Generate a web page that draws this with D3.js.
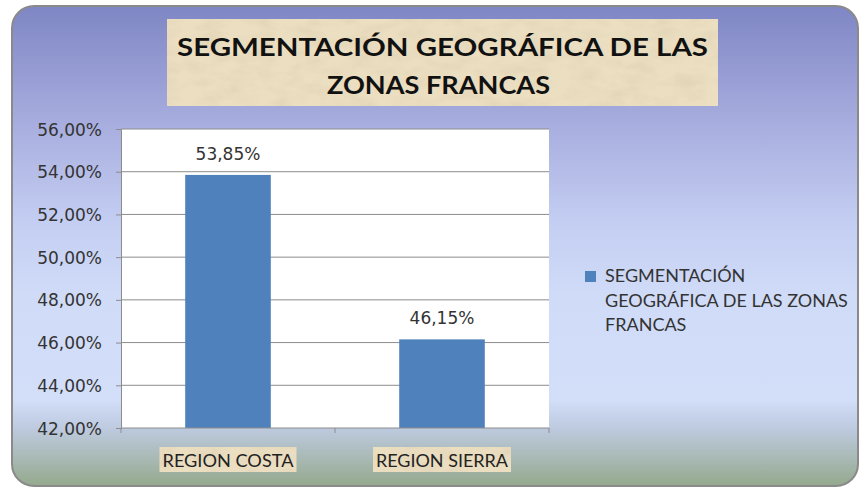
<!DOCTYPE html>
<html>
<head>
<meta charset="utf-8">
<script src="https://cdn.jsdelivr.net/npm/d3@7"></script>
<style>
  html, body { margin: 0; padding: 0; background: #ffffff; }
  svg { display: block; }
</style>
</head>
<body>
<svg id="chart" width="860" height="489"></svg>
<script>
// ---- data ----
const categories = ["REGION COSTA", "REGION SIERRA"];
const values = [0.5385, 0.4615];
const valueLabels = ["53,85%", "46,15%"];
const yTicks = [0.42, 0.44, 0.46, 0.48, 0.50, 0.52, 0.54, 0.56];
const titleLines = ["SEGMENTACIÓN GEOGRÁFICA DE LAS", "ZONAS FRANCAS"];
const legendLines = ["SEGMENTACIÓN", "GEOGRÁFICA DE LAS ZONAS", "FRANCAS"];

const svg = d3.select("#chart");
const defs = svg.append("defs");

// background gradient
const bg = defs.append("linearGradient").attr("id", "bg")
  .attr("x1", 0).attr("y1", 0).attr("x2", 0).attr("y2", 1);
[[0, "#7e86c4"], [0.2, "#a1a6da"], [0.45, "#c4cef2"], [0.6, "#d0dbf8"],
 [0.82, "#d3def9"], [0.88, "#bdcadf"], [0.94, "#a9bab6"], [1, "#94a98d"]]
  .forEach(([o, c]) => bg.append("stop").attr("offset", o).attr("stop-color", c));

// parchment texture
const f = defs.append("filter").attr("id", "paper").attr("x", 0).attr("y", 0).attr("width", 1).attr("height", 1);
f.append("feTurbulence").attr("type", "fractalNoise").attr("baseFrequency", "0.04 0.08").attr("numOctaves", 3).attr("seed", 4).attr("result", "n");
f.append("feColorMatrix").attr("in", "n").attr("type", "matrix")
  .attr("values", "0 0 0 0 0.55  0 0 0 0 0.45  0 0 0 0 0.30  0 0 0 -0.9 0.55").attr("result", "c");
f.append("feComposite").attr("in", "c").attr("in2", "SourceGraphic").attr("operator", "in");

// outer panel
svg.append("rect").attr("x", 12).attr("y", 6).attr("width", 846).attr("height", 480)
  .attr("rx", 22).attr("ry", 22)
  .attr("fill", "url(#bg)").attr("stroke", "#8a8a8a").attr("stroke-width", 2);

function paperBox(parent, x, y, w, h) {
  parent.append("rect").attr("x", x).attr("y", y).attr("width", w).attr("height", h).attr("fill", "#ebdec1");
  parent.append("rect").attr("x", x).attr("y", y).attr("width", w).attr("height", h).attr("fill", "#ebdec1")
    .attr("filter", "url(#paper)").attr("opacity", 0.45);
}

// title
paperBox(svg, 167, 19, 551, 87);
const titleSpecs = [[442.5, 56, 531], [438.5, 94, 223]];
titleLines.forEach((t, i) => {
  svg.append("text").attr("x", titleSpecs[i][0]).attr("y", titleSpecs[i][1]).attr("text-anchor", "middle")
    .attr("font-family", "Lato, 'Open Sans', sans-serif").attr("font-weight", "bold")
    .attr("font-size", 24).attr("fill", "#111")
    .attr("textLength", titleSpecs[i][2]).attr("lengthAdjust", "spacingAndGlyphs")
    .text(t);
});

// scales
const x = d3.scaleBand().domain(categories).range([121, 549]).paddingInner(0.6).paddingOuter(0.3);
const y = d3.scaleLinear().domain([0.42, 0.56]).range([428, 129]);

// plot area
svg.append("rect").attr("x", 121).attr("y", y(0.56)).attr("width", 428).attr("height", y(0.42) - y(0.56)).attr("fill", "#ffffff");

// y axis with gridlines
const fmt = d => d3.format(".2f")(d * 100).replace(".", ",") + "%";
const yAxis = svg.append("g").attr("transform", "translate(121,0)")
  .call(d3.axisLeft(y).tickValues(yTicks).tickFormat(fmt).tickSize(5).tickPadding(14));
yAxis.select(".domain").attr("stroke", "#8c8c8c");
yAxis.selectAll(".tick line").attr("stroke", "#8c8c8c");
yAxis.selectAll(".tick text").attr("font-family", "'DejaVu Sans', Verdana, sans-serif")
  .attr("font-size", 17).attr("fill", "#333").attr("dy", "0.36em");
svg.append("g").selectAll("line").data(yTicks.filter(t => t > 0.42)).join("line")
  .attr("x1", 121).attr("x2", 549).attr("y1", d => y(d)).attr("y2", d => y(d))
  .attr("stroke", "#8c8c8c").attr("stroke-width", 1);

// bars
svg.append("g").selectAll("rect").data(values).join("rect")
  .attr("x", (d, i) => x(categories[i])).attr("width", x.bandwidth())
  .attr("y", d => y(d)).attr("height", d => y(0.42) - y(d))
  .attr("fill", "#4f81bd");

// value labels
svg.append("g").selectAll("text").data(values).join("text")
  .attr("x", (d, i) => x(categories[i]) + x.bandwidth() / 2)
  .attr("y", d => y(d) - 15).attr("text-anchor", "middle")
  .attr("font-family", "'DejaVu Sans', Verdana, sans-serif").attr("font-size", 17).attr("fill", "#333")
  .text((d, i) => valueLabels[i]);

// x axis
const xTickPos = [121, 121 + x.step(), 549];
svg.append("line").attr("x1", 121).attr("x2", 549).attr("y1", 428).attr("y2", 428).attr("stroke", "#8c8c8c");
svg.append("g").selectAll("line").data(xTickPos).join("line")
  .attr("x1", d => d).attr("x2", d => d).attr("y1", 428).attr("y2", 433).attr("stroke", "#8c8c8c");

// category labels with parchment boxes
const catLayer = svg.append("g");
categories.forEach((c, i) => {
  const cx = x(c) + x.bandwidth() / 2;
  const w = i === 0 ? 131 : 132;
  const g = catLayer.append("g");
  paperBox(g, cx - w / 2 - 3, 447, w + 6, 25);
  g.append("text").attr("x", cx).attr("y", 467).attr("text-anchor", "middle")
    .attr("font-family", "Lato, 'Open Sans', sans-serif").attr("font-size", 17).attr("fill", "#222")
    .attr("textLength", w).attr("lengthAdjust", "spacingAndGlyphs").text(c);
});

// legend
svg.append("rect").attr("x", 585).attr("y", 271).attr("width", 11).attr("height", 11).attr("fill", "#4f81bd");
const leg = svg.append("text").attr("font-family", "Lato, 'Open Sans', sans-serif").attr("font-size", 16).attr("fill", "#333");
legendLines.forEach((l, i) => {
  leg.append("tspan").attr("x", 605).attr("y", 282 + i * 24.5).text(l);
});
const mid = leg.selectAll("tspan").filter((d, i) => i === 1);
const mw = mid.node().getComputedTextLength();
leg.attr("font-size", (16 * 243 / mw).toFixed(2));
</script>
</body>
</html>
